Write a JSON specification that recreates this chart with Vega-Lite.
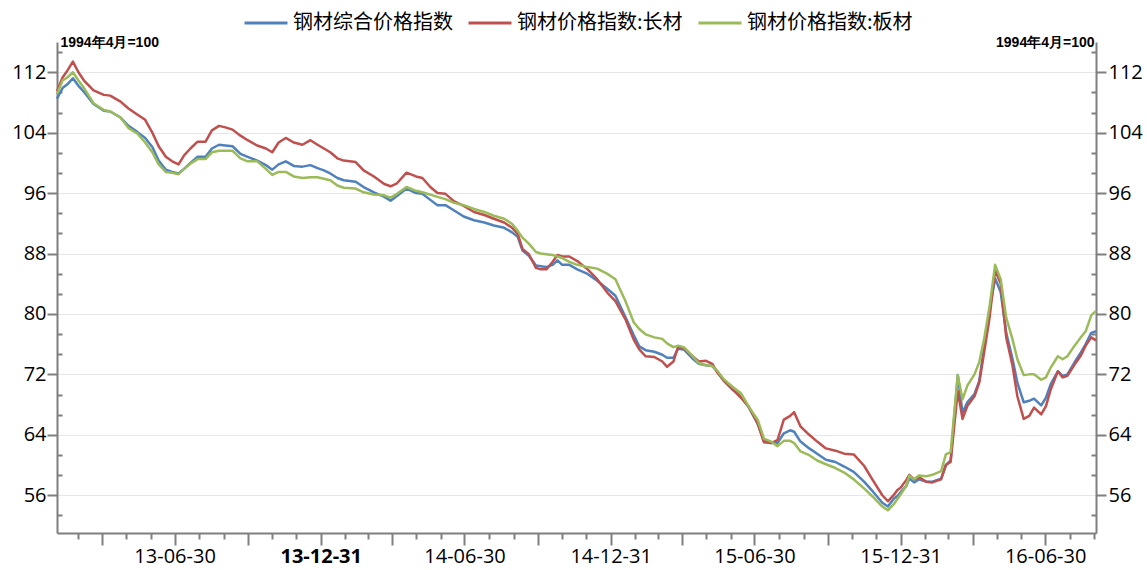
{
  "$schema": "https://vega.github.io/schema/vega-lite/v6.json",
  "autosize": "none",
  "padding": {"left": 57, "top": 42, "right": 51, "bottom": 37},
  "width": 1039,
  "height": 491,
  "background": "white",
  "config": {"view": {"stroke": null}},
  "data": {"values": [
    {"date":"2013/02/02","series":"钢材综合价格指数","value":108.5},
    {"date":"2013/02/09","series":"钢材综合价格指数","value":109.9},
    {"date":"2013/02/15","series":"钢材综合价格指数","value":110.4},
    {"date":"2013/02/22","series":"钢材综合价格指数","value":111.2},
    {"date":"2013/03/01","series":"钢材综合价格指数","value":110.2},
    {"date":"2013/03/08","series":"钢材综合价格指数","value":109.4},
    {"date":"2013/03/20","series":"钢材综合价格指数","value":107.8},
    {"date":"2013/04/02","series":"钢材综合价格指数","value":106.9},
    {"date":"2013/04/10","series":"钢材综合价格指数","value":106.8},
    {"date":"2013/04/23","series":"钢材综合价格指数","value":106.0},
    {"date":"2013/05/03","series":"钢材综合价格指数","value":104.9},
    {"date":"2013/05/14","series":"钢材综合价格指数","value":104.1},
    {"date":"2013/05/24","series":"钢材综合价格指数","value":103.3},
    {"date":"2013/06/02","series":"钢材综合价格指数","value":102.1},
    {"date":"2013/06/10","series":"钢材综合价格指数","value":100.3},
    {"date":"2013/06/19","series":"钢材综合价格指数","value":99.1},
    {"date":"2013/06/27","series":"钢材综合价格指数","value":98.8},
    {"date":"2013/07/05","series":"钢材综合价格指数","value":98.6},
    {"date":"2013/07/12","series":"钢材综合价格指数","value":99.2},
    {"date":"2013/07/20","series":"钢材综合价格指数","value":100.0},
    {"date":"2013/07/29","series":"钢材综合价格指数","value":100.8},
    {"date":"2013/08/08","series":"钢材综合价格指数","value":100.8},
    {"date":"2013/08/16","series":"钢材综合价格指数","value":101.9},
    {"date":"2013/08/25","series":"钢材综合价格指数","value":102.4},
    {"date":"2013/09/02","series":"钢材综合价格指数","value":102.3},
    {"date":"2013/09/11","series":"钢材综合价格指数","value":102.2},
    {"date":"2013/09/21","series":"钢材综合价格指数","value":101.2},
    {"date":"2013/09/30","series":"钢材综合价格指数","value":100.8},
    {"date":"2013/10/12","series":"钢材综合价格指数","value":100.3},
    {"date":"2013/10/23","series":"钢材综合价格指数","value":99.7},
    {"date":"2013/10/31","series":"钢材综合价格指数","value":99.1},
    {"date":"2013/11/08","series":"钢材综合价格指数","value":99.8},
    {"date":"2013/11/17","series":"钢材综合价格指数","value":100.2},
    {"date":"2013/11/27","series":"钢材综合价格指数","value":99.6},
    {"date":"2013/12/08","series":"钢材综合价格指数","value":99.5},
    {"date":"2013/12/18","series":"钢材综合价格指数","value":99.7},
    {"date":"2013/12/27","series":"钢材综合价格指数","value":99.3},
    {"date":"2014/01/04","series":"钢材综合价格指数","value":99.0},
    {"date":"2014/01/12","series":"钢材综合价格指数","value":98.6},
    {"date":"2014/01/21","series":"钢材综合价格指数","value":98.0},
    {"date":"2014/01/29","series":"钢材综合价格指数","value":97.7},
    {"date":"2014/02/13","series":"钢材综合价格指数","value":97.5},
    {"date":"2014/02/23","series":"钢材综合价格指数","value":96.8},
    {"date":"2014/03/08","series":"钢材综合价格指数","value":96.1},
    {"date":"2014/03/21","series":"钢材综合价格指数","value":95.5},
    {"date":"2014/03/29","series":"钢材综合价格指数","value":95.0},
    {"date":"2014/04/06","series":"钢材综合价格指数","value":95.6},
    {"date":"2014/04/18","series":"钢材综合价格指数","value":96.6},
    {"date":"2014/04/30","series":"钢材综合价格指数","value":96.0},
    {"date":"2014/05/08","series":"钢材综合价格指数","value":95.9},
    {"date":"2014/05/18","series":"钢材综合价格指数","value":95.1},
    {"date":"2014/05/27","series":"钢材综合价格指数","value":94.4},
    {"date":"2014/06/06","series":"钢材综合价格指数","value":94.4},
    {"date":"2014/06/17","series":"钢材综合价格指数","value":93.7},
    {"date":"2014/06/29","series":"钢材综合价格指数","value":92.9},
    {"date":"2014/07/12","series":"钢材综合价格指数","value":92.4},
    {"date":"2014/07/25","series":"钢材综合价格指数","value":92.1},
    {"date":"2014/08/06","series":"钢材综合价格指数","value":91.7},
    {"date":"2014/08/19","series":"钢材综合价格指数","value":91.4},
    {"date":"2014/08/29","series":"钢材综合价格指数","value":90.8},
    {"date":"2014/09/05","series":"钢材综合价格指数","value":90.2},
    {"date":"2014/09/11","series":"钢材综合价格指数","value":88.4},
    {"date":"2014/09/19","series":"钢材综合价格指数","value":87.7},
    {"date":"2014/09/28","series":"钢材综合价格指数","value":86.4},
    {"date":"2014/10/04","series":"钢材综合价格指数","value":86.3},
    {"date":"2014/10/11","series":"钢材综合价格指数","value":86.2},
    {"date":"2014/10/19","series":"钢材综合价格指数","value":86.5},
    {"date":"2014/10/25","series":"钢材综合价格指数","value":87.1},
    {"date":"2014/10/31","series":"钢材综合价格指数","value":86.5},
    {"date":"2014/11/09","series":"钢材综合价格指数","value":86.5},
    {"date":"2014/11/19","series":"钢材综合价格指数","value":85.9},
    {"date":"2014/12/02","series":"钢材综合价格指数","value":85.3},
    {"date":"2014/12/14","series":"钢材综合价格指数","value":84.4},
    {"date":"2014/12/27","series":"钢材综合价格指数","value":83.3},
    {"date":"2015/01/06","series":"钢材综合价格指数","value":82.4},
    {"date":"2015/01/19","series":"钢材综合价格指数","value":79.5},
    {"date":"2015/01/29","series":"钢材综合价格指数","value":77.2},
    {"date":"2015/02/05","series":"钢材综合价格指数","value":75.7},
    {"date":"2015/02/13","series":"钢材综合价格指数","value":75.2},
    {"date":"2015/02/24","series":"钢材综合价格指数","value":75.0},
    {"date":"2015/03/06","series":"钢材综合价格指数","value":74.6},
    {"date":"2015/03/12","series":"钢材综合价格指数","value":74.2},
    {"date":"2015/03/20","series":"钢材综合价格指数","value":74.2},
    {"date":"2015/03/26","series":"钢材综合价格指数","value":75.4},
    {"date":"2015/04/02","series":"钢材综合价格指数","value":75.3},
    {"date":"2015/04/13","series":"钢材综合价格指数","value":74.1},
    {"date":"2015/04/21","series":"钢材综合价格指数","value":73.4},
    {"date":"2015/04/30","series":"钢材综合价格指数","value":73.2},
    {"date":"2015/05/08","series":"钢材综合价格指数","value":73.1},
    {"date":"2015/05/14","series":"钢材综合价格指数","value":72.4},
    {"date":"2015/05/23","series":"钢材综合价格指数","value":71.1},
    {"date":"2015/06/02","series":"钢材综合价格指数","value":70.0},
    {"date":"2015/06/13","series":"钢材综合价格指数","value":69.1},
    {"date":"2015/06/23","series":"钢材综合价格指数","value":67.6},
    {"date":"2015/07/04","series":"钢材综合价格指数","value":65.5},
    {"date":"2015/07/12","series":"钢材综合价格指数","value":63.2},
    {"date":"2015/07/21","series":"钢材综合价格指数","value":62.9},
    {"date":"2015/07/29","series":"钢材综合价格指数","value":62.9},
    {"date":"2015/08/06","series":"钢材综合价格指数","value":64.2},
    {"date":"2015/08/14","series":"钢材综合价格指数","value":64.6},
    {"date":"2015/08/19","series":"钢材综合价格指数","value":64.4},
    {"date":"2015/08/27","series":"钢材综合价格指数","value":63.1},
    {"date":"2015/09/07","series":"钢材综合价格指数","value":62.2},
    {"date":"2015/09/17","series":"钢材综合价格指数","value":61.5},
    {"date":"2015/09/28","series":"钢材综合价格指数","value":60.7},
    {"date":"2015/10/10","series":"钢材综合价格指数","value":60.4},
    {"date":"2015/10/21","series":"钢材综合价格指数","value":59.8},
    {"date":"2015/11/02","series":"钢材综合价格指数","value":59.1},
    {"date":"2015/11/15","series":"钢材综合价格指数","value":57.8},
    {"date":"2015/11/26","series":"钢材综合价格指数","value":56.5},
    {"date":"2015/12/08","series":"钢材综合价格指数","value":55.0},
    {"date":"2015/12/15","series":"钢材综合价格指数","value":54.5},
    {"date":"2015/12/23","series":"钢材综合价格指数","value":55.6},
    {"date":"2015/12/27","series":"钢材综合价格指数","value":55.9},
    {"date":"2015/12/31","series":"钢材综合价格指数","value":56.4},
    {"date":"2016/01/07","series":"钢材综合价格指数","value":57.2},
    {"date":"2016/01/11","series":"钢材综合价格指数","value":58.2},
    {"date":"2016/01/17","series":"钢材综合价格指数","value":57.7},
    {"date":"2016/01/23","series":"钢材综合价格指数","value":58.1},
    {"date":"2016/02/01","series":"钢材综合价格指数","value":57.8},
    {"date":"2016/02/09","series":"钢材综合价格指数","value":57.8},
    {"date":"2016/02/20","series":"钢材综合价格指数","value":58.2},
    {"date":"2016/02/26","series":"钢材综合价格指数","value":60.0},
    {"date":"2016/03/03","series":"钢材综合价格指数","value":60.6},
    {"date":"2016/03/12","series":"钢材综合价格指数","value":71.9},
    {"date":"2016/03/18","series":"钢材综合价格指数","value":66.9},
    {"date":"2016/03/24","series":"钢材综合价格指数","value":68.3},
    {"date":"2016/04/02","series":"钢材综合价格指数","value":69.4},
    {"date":"2016/04/08","series":"钢材综合价格指数","value":71.1},
    {"date":"2016/04/14","series":"钢材综合价格指数","value":75.5},
    {"date":"2016/04/21","series":"钢材综合价格指数","value":80.6},
    {"date":"2016/04/28","series":"钢材综合价格指数","value":84.7},
    {"date":"2016/05/05","series":"钢材综合价格指数","value":82.9},
    {"date":"2016/05/12","series":"钢材综合价格指数","value":77.5},
    {"date":"2016/05/20","series":"钢材综合价格指数","value":74.0},
    {"date":"2016/05/26","series":"钢材综合价格指数","value":70.9},
    {"date":"2016/06/03","series":"钢材综合价格指数","value":68.3},
    {"date":"2016/06/10","series":"钢材综合价格指数","value":68.5},
    {"date":"2016/06/16","series":"钢材综合价格指数","value":68.8},
    {"date":"2016/06/25","series":"钢材综合价格指数","value":67.9},
    {"date":"2016/07/01","series":"钢材综合价格指数","value":68.9},
    {"date":"2016/07/07","series":"钢材综合价格指数","value":70.7},
    {"date":"2016/07/16","series":"钢材综合价格指数","value":72.4},
    {"date":"2016/07/22","series":"钢材综合价格指数","value":71.8},
    {"date":"2016/07/28","series":"钢材综合价格指数","value":72.0},
    {"date":"2016/08/06","series":"钢材综合价格指数","value":73.6},
    {"date":"2016/08/14","series":"钢材综合价格指数","value":74.9},
    {"date":"2016/08/20","series":"钢材综合价格指数","value":76.0},
    {"date":"2016/08/27","series":"钢材综合价格指数","value":77.5},
    {"date":"2016/09/02","series":"钢材综合价格指数","value":77.7},

    {"date":"2013/02/02","series":"钢材价格指数:长材","value":109.5},
    {"date":"2013/02/09","series":"钢材价格指数:长材","value":111.3},
    {"date":"2013/02/15","series":"钢材价格指数:长材","value":112.2},
    {"date":"2013/02/22","series":"钢材价格指数:长材","value":113.4},
    {"date":"2013/03/01","series":"钢材价格指数:长材","value":112.0},
    {"date":"2013/03/08","series":"钢材价格指数:长材","value":110.9},
    {"date":"2013/03/20","series":"钢材价格指数:长材","value":109.6},
    {"date":"2013/04/02","series":"钢材价格指数:长材","value":109.0},
    {"date":"2013/04/10","series":"钢材价格指数:长材","value":108.9},
    {"date":"2013/04/23","series":"钢材价格指数:长材","value":108.1},
    {"date":"2013/05/03","series":"钢材价格指数:长材","value":107.2},
    {"date":"2013/05/14","series":"钢材价格指数:长材","value":106.4},
    {"date":"2013/05/24","series":"钢材价格指数:长材","value":105.7},
    {"date":"2013/06/02","series":"钢材价格指数:长材","value":104.0},
    {"date":"2013/06/10","series":"钢材价格指数:长材","value":102.2},
    {"date":"2013/06/19","series":"钢材价格指数:长材","value":100.8},
    {"date":"2013/06/27","series":"钢材价格指数:长材","value":100.2},
    {"date":"2013/07/05","series":"钢材价格指数:长材","value":99.8},
    {"date":"2013/07/12","series":"钢材价格指数:长材","value":101.0},
    {"date":"2013/07/20","series":"钢材价格指数:长材","value":101.9},
    {"date":"2013/07/29","series":"钢材价格指数:长材","value":102.8},
    {"date":"2013/08/08","series":"钢材价格指数:长材","value":102.8},
    {"date":"2013/08/16","series":"钢材价格指数:长材","value":104.3},
    {"date":"2013/08/25","series":"钢材价格指数:长材","value":104.9},
    {"date":"2013/09/02","series":"钢材价格指数:长材","value":104.7},
    {"date":"2013/09/11","series":"钢材价格指数:长材","value":104.4},
    {"date":"2013/09/21","series":"钢材价格指数:长材","value":103.6},
    {"date":"2013/09/30","series":"钢材价格指数:长材","value":103.0},
    {"date":"2013/10/12","series":"钢材价格指数:长材","value":102.3},
    {"date":"2013/10/23","series":"钢材价格指数:长材","value":101.9},
    {"date":"2013/10/31","series":"钢材价格指数:长材","value":101.4},
    {"date":"2013/11/08","series":"钢材价格指数:长材","value":102.7},
    {"date":"2013/11/17","series":"钢材价格指数:长材","value":103.3},
    {"date":"2013/11/27","series":"钢材价格指数:长材","value":102.7},
    {"date":"2013/12/08","series":"钢材价格指数:长材","value":102.4},
    {"date":"2013/12/18","series":"钢材价格指数:长材","value":103.0},
    {"date":"2013/12/27","series":"钢材价格指数:长材","value":102.4},
    {"date":"2014/01/04","series":"钢材价格指数:长材","value":101.9},
    {"date":"2014/01/12","series":"钢材价格指数:长材","value":101.4},
    {"date":"2014/01/21","series":"钢材价格指数:长材","value":100.6},
    {"date":"2014/01/29","series":"钢材价格指数:长材","value":100.3},
    {"date":"2014/02/13","series":"钢材价格指数:长材","value":100.1},
    {"date":"2014/02/23","series":"钢材价格指数:长材","value":99.0},
    {"date":"2014/03/08","series":"钢材价格指数:长材","value":98.2},
    {"date":"2014/03/21","series":"钢材价格指数:长材","value":97.2},
    {"date":"2014/03/29","series":"钢材价格指数:长材","value":96.9},
    {"date":"2014/04/06","series":"钢材价格指数:长材","value":97.3},
    {"date":"2014/04/18","series":"钢材价格指数:长材","value":98.7},
    {"date":"2014/04/30","series":"钢材价格指数:长材","value":98.2},
    {"date":"2014/05/08","series":"钢材价格指数:长材","value":98.0},
    {"date":"2014/05/18","series":"钢材价格指数:长材","value":96.8},
    {"date":"2014/05/27","series":"钢材价格指数:长材","value":96.0},
    {"date":"2014/06/06","series":"钢材价格指数:长材","value":95.9},
    {"date":"2014/06/17","series":"钢材价格指数:长材","value":94.9},
    {"date":"2014/06/29","series":"钢材价格指数:长材","value":94.3},
    {"date":"2014/07/12","series":"钢材价格指数:长材","value":93.5},
    {"date":"2014/07/25","series":"钢材价格指数:长材","value":93.1},
    {"date":"2014/08/06","series":"钢材价格指数:长材","value":92.6},
    {"date":"2014/08/19","series":"钢材价格指数:长材","value":92.1},
    {"date":"2014/08/29","series":"钢材价格指数:长材","value":91.4},
    {"date":"2014/09/05","series":"钢材价格指数:长材","value":90.6},
    {"date":"2014/09/11","series":"钢材价格指数:长材","value":88.6},
    {"date":"2014/09/19","series":"钢材价格指数:长材","value":87.9},
    {"date":"2014/09/28","series":"钢材价格指数:长材","value":86.1},
    {"date":"2014/10/04","series":"钢材价格指数:长材","value":85.9},
    {"date":"2014/10/11","series":"钢材价格指数:长材","value":85.9},
    {"date":"2014/10/19","series":"钢材价格指数:长材","value":86.9},
    {"date":"2014/10/25","series":"钢材价格指数:长材","value":87.8},
    {"date":"2014/10/31","series":"钢材价格指数:长材","value":87.6},
    {"date":"2014/11/09","series":"钢材价格指数:长材","value":87.6},
    {"date":"2014/11/19","series":"钢材价格指数:长材","value":87.0},
    {"date":"2014/12/02","series":"钢材价格指数:长材","value":85.9},
    {"date":"2014/12/14","series":"钢材价格指数:长材","value":84.6},
    {"date":"2014/12/27","series":"钢材价格指数:长材","value":82.8},
    {"date":"2015/01/06","series":"钢材价格指数:长材","value":81.7},
    {"date":"2015/01/19","series":"钢材价格指数:长材","value":79.2},
    {"date":"2015/01/29","series":"钢材价格指数:长材","value":76.6},
    {"date":"2015/02/05","series":"钢材价格指数:长材","value":75.3},
    {"date":"2015/02/13","series":"钢材价格指数:长材","value":74.4},
    {"date":"2015/02/24","series":"钢材价格指数:长材","value":74.3},
    {"date":"2015/03/06","series":"钢材价格指数:长材","value":73.7},
    {"date":"2015/03/12","series":"钢材价格指数:长材","value":73.0},
    {"date":"2015/03/20","series":"钢材价格指数:长材","value":73.7},
    {"date":"2015/03/26","series":"钢材价格指数:长材","value":75.7},
    {"date":"2015/04/02","series":"钢材价格指数:长材","value":75.5},
    {"date":"2015/04/13","series":"钢材价格指数:长材","value":74.4},
    {"date":"2015/04/21","series":"钢材价格指数:长材","value":73.7},
    {"date":"2015/04/30","series":"钢材价格指数:长材","value":73.8},
    {"date":"2015/05/08","series":"钢材价格指数:长材","value":73.4},
    {"date":"2015/05/14","series":"钢材价格指数:长材","value":72.3},
    {"date":"2015/05/23","series":"钢材价格指数:长材","value":71.1},
    {"date":"2015/06/02","series":"钢材价格指数:长材","value":70.1},
    {"date":"2015/06/13","series":"钢材价格指数:长材","value":68.9},
    {"date":"2015/06/23","series":"钢材价格指数:长材","value":67.7},
    {"date":"2015/07/04","series":"钢材价格指数:长材","value":65.5},
    {"date":"2015/07/12","series":"钢材价格指数:长材","value":63.0},
    {"date":"2015/07/21","series":"钢材价格指数:长材","value":62.9},
    {"date":"2015/07/29","series":"钢材价格指数:长材","value":63.3},
    {"date":"2015/08/06","series":"钢材价格指数:长材","value":66.0},
    {"date":"2015/08/14","series":"钢材价格指数:长材","value":66.5},
    {"date":"2015/08/19","series":"钢材价格指数:长材","value":67.0},
    {"date":"2015/08/27","series":"钢材价格指数:长材","value":65.1},
    {"date":"2015/09/07","series":"钢材价格指数:长材","value":64.0},
    {"date":"2015/09/17","series":"钢材价格指数:长材","value":63.1},
    {"date":"2015/09/28","series":"钢材价格指数:长材","value":62.2},
    {"date":"2015/10/10","series":"钢材价格指数:长材","value":61.9},
    {"date":"2015/10/21","series":"钢材价格指数:长材","value":61.5},
    {"date":"2015/11/02","series":"钢材价格指数:长材","value":61.4},
    {"date":"2015/11/15","series":"钢材价格指数:长材","value":59.9},
    {"date":"2015/11/26","series":"钢材价格指数:长材","value":58.0},
    {"date":"2015/12/08","series":"钢材价格指数:长材","value":56.0},
    {"date":"2015/12/15","series":"钢材价格指数:长材","value":55.2},
    {"date":"2015/12/23","series":"钢材价格指数:长材","value":56.1},
    {"date":"2015/12/27","series":"钢材价格指数:长材","value":56.7},
    {"date":"2015/12/31","series":"钢材价格指数:长材","value":57.0},
    {"date":"2016/01/07","series":"钢材价格指数:长材","value":58.0},
    {"date":"2016/01/11","series":"钢材价格指数:长材","value":58.7},
    {"date":"2016/01/17","series":"钢材价格指数:长材","value":58.1},
    {"date":"2016/01/23","series":"钢材价格指数:长材","value":58.4},
    {"date":"2016/02/01","series":"钢材价格指数:长材","value":57.8},
    {"date":"2016/02/09","series":"钢材价格指数:长材","value":57.7},
    {"date":"2016/02/20","series":"钢材价格指数:长材","value":58.1},
    {"date":"2016/02/26","series":"钢材价格指数:长材","value":60.0},
    {"date":"2016/03/03","series":"钢材价格指数:长材","value":60.4},
    {"date":"2016/03/12","series":"钢材价格指数:长材","value":69.8},
    {"date":"2016/03/18","series":"钢材价格指数:长材","value":66.1},
    {"date":"2016/03/24","series":"钢材价格指数:长材","value":67.8},
    {"date":"2016/04/02","series":"钢材价格指数:长材","value":69.1},
    {"date":"2016/04/08","series":"钢材价格指数:长材","value":70.9},
    {"date":"2016/04/14","series":"钢材价格指数:长材","value":74.8},
    {"date":"2016/04/21","series":"钢材价格指数:长材","value":79.5},
    {"date":"2016/04/28","series":"钢材价格指数:长材","value":85.8},
    {"date":"2016/05/05","series":"钢材价格指数:长材","value":84.0},
    {"date":"2016/05/12","series":"钢材价格指数:长材","value":76.9},
    {"date":"2016/05/20","series":"钢材价格指数:长材","value":73.1},
    {"date":"2016/05/26","series":"钢材价格指数:长材","value":69.1},
    {"date":"2016/06/03","series":"钢材价格指数:长材","value":66.1},
    {"date":"2016/06/10","series":"钢材价格指数:长材","value":66.5},
    {"date":"2016/06/16","series":"钢材价格指数:长材","value":67.6},
    {"date":"2016/06/25","series":"钢材价格指数:长材","value":66.7},
    {"date":"2016/07/01","series":"钢材价格指数:长材","value":67.8},
    {"date":"2016/07/07","series":"钢材价格指数:长材","value":70.0},
    {"date":"2016/07/16","series":"钢材价格指数:长材","value":72.4},
    {"date":"2016/07/22","series":"钢材价格指数:长材","value":71.6},
    {"date":"2016/07/28","series":"钢材价格指数:长材","value":71.8},
    {"date":"2016/08/06","series":"钢材价格指数:长材","value":73.3},
    {"date":"2016/08/14","series":"钢材价格指数:长材","value":74.5},
    {"date":"2016/08/20","series":"钢材价格指数:长材","value":75.8},
    {"date":"2016/08/27","series":"钢材价格指数:长材","value":76.9},
    {"date":"2016/09/02","series":"钢材价格指数:长材","value":76.5},

    {"date":"2013/02/02","series":"钢材价格指数:板材","value":109.1},
    {"date":"2013/02/09","series":"钢材价格指数:板材","value":110.9},
    {"date":"2013/02/15","series":"钢材价格指数:板材","value":111.3},
    {"date":"2013/02/22","series":"钢材价格指数:板材","value":112.0},
    {"date":"2013/03/01","series":"钢材价格指数:板材","value":110.9},
    {"date":"2013/03/08","series":"钢材价格指数:板材","value":109.9},
    {"date":"2013/03/20","series":"钢材价格指数:板材","value":107.9},
    {"date":"2013/04/02","series":"钢材价格指数:板材","value":107.0},
    {"date":"2013/04/10","series":"钢材价格指数:板材","value":106.8},
    {"date":"2013/04/23","series":"钢材价格指数:板材","value":106.0},
    {"date":"2013/05/03","series":"钢材价格指数:板材","value":104.6},
    {"date":"2013/05/14","series":"钢材价格指数:板材","value":103.9},
    {"date":"2013/05/24","series":"钢材价格指数:板材","value":102.7},
    {"date":"2013/06/02","series":"钢材价格指数:板材","value":101.4},
    {"date":"2013/06/10","series":"钢材价格指数:板材","value":99.8},
    {"date":"2013/06/19","series":"钢材价格指数:板材","value":98.8},
    {"date":"2013/06/27","series":"钢材价格指数:板材","value":98.7},
    {"date":"2013/07/05","series":"钢材价格指数:板材","value":98.5},
    {"date":"2013/07/12","series":"钢材价格指数:板材","value":99.2},
    {"date":"2013/07/20","series":"钢材价格指数:板材","value":99.9},
    {"date":"2013/07/29","series":"钢材价格指数:板材","value":100.5},
    {"date":"2013/08/08","series":"钢材价格指数:板材","value":100.5},
    {"date":"2013/08/16","series":"钢材价格指数:板材","value":101.4},
    {"date":"2013/08/25","series":"钢材价格指数:板材","value":101.6},
    {"date":"2013/09/02","series":"钢材价格指数:板材","value":101.6},
    {"date":"2013/09/11","series":"钢材价格指数:板材","value":101.6},
    {"date":"2013/09/21","series":"钢材价格指数:板材","value":100.6},
    {"date":"2013/09/30","series":"钢材价格指数:板材","value":100.2},
    {"date":"2013/10/12","series":"钢材价格指数:板材","value":100.2},
    {"date":"2013/10/23","series":"钢材价格指数:板材","value":99.2},
    {"date":"2013/10/31","series":"钢材价格指数:板材","value":98.4},
    {"date":"2013/11/08","series":"钢材价格指数:板材","value":98.8},
    {"date":"2013/11/17","series":"钢材价格指数:板材","value":98.8},
    {"date":"2013/11/27","series":"钢材价格指数:板材","value":98.2},
    {"date":"2013/12/08","series":"钢材价格指数:板材","value":98.0},
    {"date":"2013/12/18","series":"钢材价格指数:板材","value":98.1},
    {"date":"2013/12/27","series":"钢材价格指数:板材","value":98.1},
    {"date":"2014/01/04","series":"钢材价格指数:板材","value":97.9},
    {"date":"2014/01/12","series":"钢材价格指数:板材","value":97.7},
    {"date":"2014/01/21","series":"钢材价格指数:板材","value":97.0},
    {"date":"2014/01/29","series":"钢材价格指数:板材","value":96.7},
    {"date":"2014/02/13","series":"钢材价格指数:板材","value":96.6},
    {"date":"2014/02/23","series":"钢材价格指数:板材","value":96.1},
    {"date":"2014/03/08","series":"钢材价格指数:板材","value":95.8},
    {"date":"2014/03/21","series":"钢材价格指数:板材","value":95.7},
    {"date":"2014/03/29","series":"钢材价格指数:板材","value":95.4},
    {"date":"2014/04/06","series":"钢材价格指数:板材","value":95.9},
    {"date":"2014/04/18","series":"钢材价格指数:板材","value":96.8},
    {"date":"2014/04/30","series":"钢材价格指数:板材","value":96.3},
    {"date":"2014/05/08","series":"钢材价格指数:板材","value":96.1},
    {"date":"2014/05/18","series":"钢材价格指数:板材","value":95.8},
    {"date":"2014/05/27","series":"钢材价格指数:板材","value":95.5},
    {"date":"2014/06/06","series":"钢材价格指数:板材","value":95.2},
    {"date":"2014/06/17","series":"钢材价格指数:板材","value":94.7},
    {"date":"2014/06/29","series":"钢材价格指数:板材","value":94.4},
    {"date":"2014/07/12","series":"钢材价格指数:板材","value":93.9},
    {"date":"2014/07/25","series":"钢材价格指数:板材","value":93.5},
    {"date":"2014/08/06","series":"钢材价格指数:板材","value":93.0},
    {"date":"2014/08/19","series":"钢材价格指数:板材","value":92.6},
    {"date":"2014/08/29","series":"钢材价格指数:板材","value":91.9},
    {"date":"2014/09/05","series":"钢材价格指数:板材","value":91.0},
    {"date":"2014/09/11","series":"钢材价格指数:板材","value":90.1},
    {"date":"2014/09/19","series":"钢材价格指数:板材","value":89.3},
    {"date":"2014/09/28","series":"钢材价格指数:板材","value":88.2},
    {"date":"2014/10/04","series":"钢材价格指数:板材","value":88.0},
    {"date":"2014/10/11","series":"钢材价格指数:板材","value":87.9},
    {"date":"2014/10/19","series":"钢材价格指数:板材","value":87.8},
    {"date":"2014/10/25","series":"钢材价格指数:板材","value":87.6},
    {"date":"2014/10/31","series":"钢材价格指数:板材","value":87.4},
    {"date":"2014/11/09","series":"钢材价格指数:板材","value":86.9},
    {"date":"2014/11/19","series":"钢材价格指数:板材","value":86.5},
    {"date":"2014/12/02","series":"钢材价格指数:板材","value":86.2},
    {"date":"2014/12/14","series":"钢材价格指数:板材","value":86.0},
    {"date":"2014/12/27","series":"钢材价格指数:板材","value":85.3},
    {"date":"2015/01/06","series":"钢材价格指数:板材","value":84.6},
    {"date":"2015/01/19","series":"钢材价格指数:板材","value":81.6},
    {"date":"2015/01/29","series":"钢材价格指数:板材","value":78.9},
    {"date":"2015/02/05","series":"钢材价格指数:板材","value":78.0},
    {"date":"2015/02/13","series":"钢材价格指数:板材","value":77.3},
    {"date":"2015/02/24","series":"钢材价格指数:板材","value":76.9},
    {"date":"2015/03/06","series":"钢材价格指数:板材","value":76.7},
    {"date":"2015/03/12","series":"钢材价格指数:板材","value":76.1},
    {"date":"2015/03/20","series":"钢材价格指数:板材","value":75.6},
    {"date":"2015/03/26","series":"钢材价格指数:板材","value":75.8},
    {"date":"2015/04/02","series":"钢材价格指数:板材","value":75.6},
    {"date":"2015/04/13","series":"钢材价格指数:板材","value":74.4},
    {"date":"2015/04/21","series":"钢材价格指数:板材","value":73.5},
    {"date":"2015/04/30","series":"钢材价格指数:板材","value":73.2},
    {"date":"2015/05/08","series":"钢材价格指数:板材","value":73.1},
    {"date":"2015/05/14","series":"钢材价格指数:板材","value":72.5},
    {"date":"2015/05/23","series":"钢材价格指数:板材","value":71.3},
    {"date":"2015/06/02","series":"钢材价格指数:板材","value":70.4},
    {"date":"2015/06/13","series":"钢材价格指数:板材","value":69.5},
    {"date":"2015/06/23","series":"钢材价格指数:板材","value":67.7},
    {"date":"2015/07/04","series":"钢材价格指数:板材","value":66.0},
    {"date":"2015/07/12","series":"钢材价格指数:板材","value":63.5},
    {"date":"2015/07/21","series":"钢材价格指数:板材","value":63.1},
    {"date":"2015/07/29","series":"钢材价格指数:板材","value":62.5},
    {"date":"2015/08/06","series":"钢材价格指数:板材","value":63.2},
    {"date":"2015/08/14","series":"钢材价格指数:板材","value":63.2},
    {"date":"2015/08/19","series":"钢材价格指数:板材","value":62.9},
    {"date":"2015/08/27","series":"钢材价格指数:板材","value":61.8},
    {"date":"2015/09/07","series":"钢材价格指数:板材","value":61.3},
    {"date":"2015/09/17","series":"钢材价格指数:板材","value":60.6},
    {"date":"2015/09/28","series":"钢材价格指数:板材","value":60.1},
    {"date":"2015/10/10","series":"钢材价格指数:板材","value":59.6},
    {"date":"2015/10/21","series":"钢材价格指数:板材","value":59.0},
    {"date":"2015/11/02","series":"钢材价格指数:板材","value":58.1},
    {"date":"2015/11/15","series":"钢材价格指数:板材","value":56.9},
    {"date":"2015/11/26","series":"钢材价格指数:板材","value":55.8},
    {"date":"2015/12/08","series":"钢材价格指数:板材","value":54.5},
    {"date":"2015/12/15","series":"钢材价格指数:板材","value":54.0},
    {"date":"2015/12/23","series":"钢材价格指数:板材","value":54.9},
    {"date":"2015/12/27","series":"钢材价格指数:板材","value":55.5},
    {"date":"2015/12/31","series":"钢材价格指数:板材","value":56.1},
    {"date":"2016/01/07","series":"钢材价格指数:板材","value":57.2},
    {"date":"2016/01/11","series":"钢材价格指数:板材","value":58.6},
    {"date":"2016/01/17","series":"钢材价格指数:板材","value":58.1},
    {"date":"2016/01/23","series":"钢材价格指数:板材","value":58.6},
    {"date":"2016/02/01","series":"钢材价格指数:板材","value":58.5},
    {"date":"2016/02/09","series":"钢材价格指数:板材","value":58.7},
    {"date":"2016/02/20","series":"钢材价格指数:板材","value":59.2},
    {"date":"2016/02/26","series":"钢材价格指数:板材","value":61.4},
    {"date":"2016/03/03","series":"钢材价格指数:板材","value":61.7},
    {"date":"2016/03/12","series":"钢材价格指数:板材","value":71.9},
    {"date":"2016/03/18","series":"钢材价格指数:板材","value":68.7},
    {"date":"2016/03/24","series":"钢材价格指数:板材","value":70.5},
    {"date":"2016/04/02","series":"钢材价格指数:板材","value":72.0},
    {"date":"2016/04/08","series":"钢材价格指数:板材","value":73.6},
    {"date":"2016/04/14","series":"钢材价格指数:板材","value":76.6},
    {"date":"2016/04/21","series":"钢材价格指数:板材","value":81.0},
    {"date":"2016/04/28","series":"钢材价格指数:板材","value":86.5},
    {"date":"2016/05/05","series":"钢材价格指数:板材","value":84.6},
    {"date":"2016/05/12","series":"钢材价格指数:板材","value":79.5},
    {"date":"2016/05/20","series":"钢材价格指数:板材","value":76.6},
    {"date":"2016/05/26","series":"钢材价格指数:板材","value":74.0},
    {"date":"2016/06/03","series":"钢材价格指数:板材","value":71.9},
    {"date":"2016/06/10","series":"钢材价格指数:板材","value":72.0},
    {"date":"2016/06/16","series":"钢材价格指数:板材","value":72.0},
    {"date":"2016/06/25","series":"钢材价格指数:板材","value":71.3},
    {"date":"2016/07/01","series":"钢材价格指数:板材","value":71.6},
    {"date":"2016/07/07","series":"钢材价格指数:板材","value":72.9},
    {"date":"2016/07/16","series":"钢材价格指数:板材","value":74.4},
    {"date":"2016/07/22","series":"钢材价格指数:板材","value":74.0},
    {"date":"2016/07/28","series":"钢材价格指数:板材","value":74.4},
    {"date":"2016/08/06","series":"钢材价格指数:板材","value":75.8},
    {"date":"2016/08/14","series":"钢材价格指数:板材","value":76.9},
    {"date":"2016/08/20","series":"钢材价格指数:板材","value":77.7},
    {"date":"2016/08/27","series":"钢材价格指数:板材","value":79.8},
    {"date":"2016/09/02","series":"钢材价格指数:板材","value":80.4}
  ]},
  "encoding": {
    "x": {
      "field": "date", "type": "temporal",
      "scale": {"domain": [{"year": 2013, "month": 2, "date": 2}, {"year": 2016, "month": 9, "date": 2}]},
      "axis": {
        "title": null,
        "grid": false,
        "domainColor": "#7f7f7f", "domainWidth": 2,
        "tickColor": "#7f7f7f", "tickWidth": 2,
        "tickSize": {"condition": {"test": "month(datum.value) % 3 == 2", "value": 12}, "value": 6},
        "values": [
          {"year":2013,"month":2,"date":28},{"year":2013,"month":3,"date":31},{"year":2013,"month":4,"date":30},{"year":2013,"month":5,"date":31},{"year":2013,"month":6,"date":30},{"year":2013,"month":7,"date":31},{"year":2013,"month":8,"date":31},{"year":2013,"month":9,"date":30},{"year":2013,"month":10,"date":31},{"year":2013,"month":11,"date":30},{"year":2013,"month":12,"date":31},
          {"year":2014,"month":1,"date":31},{"year":2014,"month":2,"date":28},{"year":2014,"month":3,"date":31},{"year":2014,"month":4,"date":30},{"year":2014,"month":5,"date":31},{"year":2014,"month":6,"date":30},{"year":2014,"month":7,"date":31},{"year":2014,"month":8,"date":31},{"year":2014,"month":9,"date":30},{"year":2014,"month":10,"date":31},{"year":2014,"month":11,"date":30},{"year":2014,"month":12,"date":31},
          {"year":2015,"month":1,"date":31},{"year":2015,"month":2,"date":28},{"year":2015,"month":3,"date":31},{"year":2015,"month":4,"date":30},{"year":2015,"month":5,"date":31},{"year":2015,"month":6,"date":30},{"year":2015,"month":7,"date":31},{"year":2015,"month":8,"date":31},{"year":2015,"month":9,"date":30},{"year":2015,"month":10,"date":31},{"year":2015,"month":11,"date":30},{"year":2015,"month":12,"date":31},
          {"year":2016,"month":1,"date":31},{"year":2016,"month":2,"date":29},{"year":2016,"month":3,"date":31},{"year":2016,"month":4,"date":30},{"year":2016,"month":5,"date":31},{"year":2016,"month":6,"date":30},{"year":2016,"month":7,"date":31},{"year":2016,"month":8,"date":31}
        ],
        "labelExpr": "(month(datum.value) == 5 || month(datum.value) == 11) ? timeFormat(datum.value, '%y-%m-%d') : ''",
        "labelOverlap": false,
        "labelBound": false,
        "labelFlush": false,
        "labelFont": "Open Sans",
        "labelFontSize": 20,
        "labelColor": "#000000",
        "labelPadding": 1,
        "labelFontWeight": {"condition": {"test": "year(datum.value) == 2013 && month(datum.value) == 11", "value": "bold"}, "value": "normal"}
      }
    }
  },
  "layer": [
    {
      "mark": {"type": "line", "strokeWidth": 2.5, "strokeJoin": "round"},
      "encoding": {
        "y": {
          "field": "value", "type": "quantitative",
          "scale": {"domain": [51, 116], "zero": false, "nice": false},
          "axis": {
            "orient": "left",
            "title": "1994年4月=100",
            "titleAngle": 0, "titleX": 3, "titleY": 0,
            "titleAlign": "left", "titleBaseline": "middle",
            "titleFont": "Liberation Sans", "titleFontSize": 14, "titleFontWeight": "bold", "titleColor": "#000000",
            "values": [56, 64, 72, 80, 88, 96, 104, 112],
            "grid": true,
            "gridColor": "#e6e6e6", "gridWidth": 1,
            "domainColor": "#7f7f7f", "domainWidth": 2,
            "tickColor": "#7f7f7f", "tickWidth": 2, "tickSize": 10,
            "format": "d",
            "labelOverlap": false,
            "labelBound": false,
            "labelFont": "Open Sans",
            "labelFontSize": 20,
            "labelColor": "#000000",
            "labelPadding": 1
          }
        },
        "color": {
          "field": "series", "type": "nominal",
          "scale": {"domain": ["钢材综合价格指数", "钢材价格指数:长材", "钢材价格指数:板材"], "range": ["#4F81BD", "#C0504D", "#9BBB59"]},
          "legend": {
            "title": null,
            "orient": "none",
            "legendX": 186,
            "legendY": -42,
            "direction": "horizontal",
            "padding": 0,
            "symbolType": "stroke",
            "symbolSize": 1849,
            "symbolStrokeWidth": 3,
            "labelFont": "Noto Sans CJK SC",
            "labelFontSize": 20,
            "labelColor": "#000000",
            "labelOffset": 4,
            "columnPadding": 9,
            "labelLimit": 400
          }
        }
      }
    },
    {
      "mark": {"type": "line", "opacity": 0},
      "encoding": {
        "y": {
          "field": "value", "type": "quantitative",
          "axis": {
            "orient": "right",
            "title": "1994年4月=100",
            "titleAngle": 0, "titleX": -2, "titleY": 0,
            "titleAlign": "right", "titleBaseline": "middle",
            "titleFont": "Liberation Sans", "titleFontSize": 14, "titleFontWeight": "bold", "titleColor": "#000000",
            "values": [56, 64, 72, 80, 88, 96, 104, 112],
            "grid": false,
            "domainColor": "#7f7f7f", "domainWidth": 2,
            "tickColor": "#7f7f7f", "tickWidth": 2, "tickSize": 10,
            "format": "d",
            "labelOverlap": false,
            "labelBound": false,
            "labelFont": "Open Sans",
            "labelFontSize": 20,
            "labelColor": "#000000",
            "labelPadding": 2
          }
        },
        "detail": {"field": "series", "type": "nominal"}
      }
    },
    {
      "mark": {"type": "line", "opacity": 0},
      "encoding": {
        "y": {
          "field": "value", "type": "quantitative",
          "axis": {
            "orient": "left",
            "offset": -5,
            "title": null,
            "domain": false,
            "labels": false,
            "grid": false,
            "values": [53.33333, 58.66667, 61.33333, 66.66667, 69.33333, 74.66667, 77.33333, 82.66667, 85.33333, 90.66667, 93.33333, 98.66667, 101.33333, 106.66667, 109.33333, 114.66667],
            "tickColor": "#7f7f7f", "tickWidth": 2, "tickSize": 5
          }
        },
        "detail": {"field": "series", "type": "nominal"}
      }
    },
    {
      "mark": {"type": "line", "opacity": 0},
      "encoding": {
        "y": {
          "field": "value", "type": "quantitative",
          "axis": {
            "orient": "right",
            "offset": -5,
            "title": null,
            "domain": false,
            "labels": false,
            "grid": false,
            "values": [53.33333, 58.66667, 61.33333, 66.66667, 69.33333, 74.66667, 77.33333, 82.66667, 85.33333, 90.66667, 93.33333, 98.66667, 101.33333, 106.66667, 109.33333, 114.66667],
            "tickColor": "#7f7f7f", "tickWidth": 2, "tickSize": 5
          }
        },
        "detail": {"field": "series", "type": "nominal"}
      }
    }
  ],
  "resolve": {"axis": {"y": "independent"}}
}
